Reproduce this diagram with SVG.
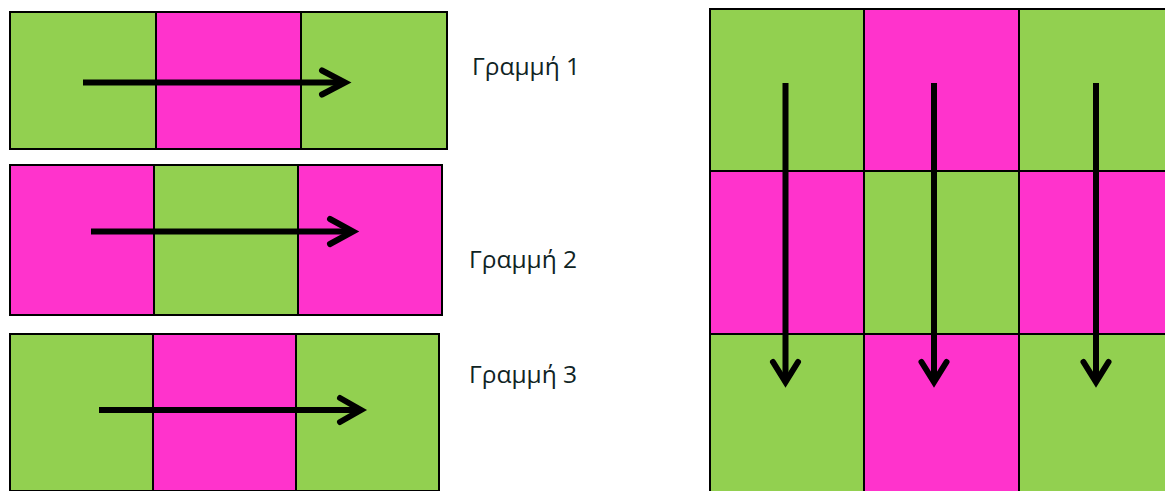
<svg xmlns="http://www.w3.org/2000/svg" width="1165" height="491" viewBox="0 0 1165 491">
<style>
.g{fill:#92D050;stroke:#000;stroke-width:2}
.p{fill:#FF33CC;stroke:#000;stroke-width:2}
.shaft{fill:none;stroke:#000;stroke-width:6;stroke-linecap:butt}
.head{fill:none;stroke:#000;stroke-width:6;stroke-linecap:round;stroke-linejoin:miter}
.lbl{font-family:"Open Sans","Noto Sans","Liberation Sans",sans-serif;font-size:24.5px;fill:#0f2424}
</style>
<rect width="1165" height="491" fill="#fff"/>
<g id="row1">
<rect class="g" x="10" y="12" width="146" height="137"/>
<rect class="p" x="156" y="12" width="145" height="137"/>
<rect class="g" x="301" y="12" width="146" height="137"/>
</g>
<g id="row2">
<rect class="p" x="10" y="165" width="144" height="150"/>
<rect class="g" x="154" y="165" width="144" height="150"/>
<rect class="p" x="298" y="165" width="144" height="150"/>
</g>
<g id="row3">
<rect class="g" x="10" y="334" width="143" height="157"/>
<rect class="p" x="153" y="334" width="143" height="157"/>
<rect class="g" x="296" y="334" width="143" height="157"/>
</g>
<g id="grid">
<rect class="g" x="710" y="9" width="154" height="162"/>
<rect class="p" x="864" y="9" width="155" height="162"/>
<rect class="g" x="1019" y="9" width="155" height="162"/>
<rect class="p" x="710" y="171" width="154" height="163"/>
<rect class="g" x="864" y="171" width="155" height="163"/>
<rect class="p" x="1019" y="171" width="155" height="163"/>
<rect class="g" x="710" y="334" width="154" height="165"/>
<rect class="p" x="864" y="334" width="155" height="165"/>
<rect class="g" x="1019" y="334" width="155" height="165"/>
</g>
<g id="labels">
<text class="lbl" x="472" y="75">Γραμμή 1</text>
<text class="lbl" x="469" y="268">Γραμμή 2</text>
<text class="lbl" x="469" y="383">Γραμμή 3</text>
</g>
<g id="connectors">
<path class="shaft" d="M83 82.5H344"/>
<path class="head" d="M322 70.5L345 82.5L322 94.5"/>
<path class="shaft" d="M91 231.5H352"/>
<path class="head" d="M330 219L353 231.5L330 244"/>
<path class="shaft" d="M99 410H359"/>
<path class="head" d="M340 398L361 410L340 422"/>
<path class="shaft" d="M785.5 83V381"/>
<path class="head" d="M773 362L785.5 382L798 362"/>
<path class="shaft" d="M934 83V381"/>
<path class="head" d="M921.5 362L934 382L946.5 362"/>
<path class="shaft" d="M1096 83V381"/>
<path class="head" d="M1083.5 362L1096 382L1108.5 362"/>
</g>
</svg>
